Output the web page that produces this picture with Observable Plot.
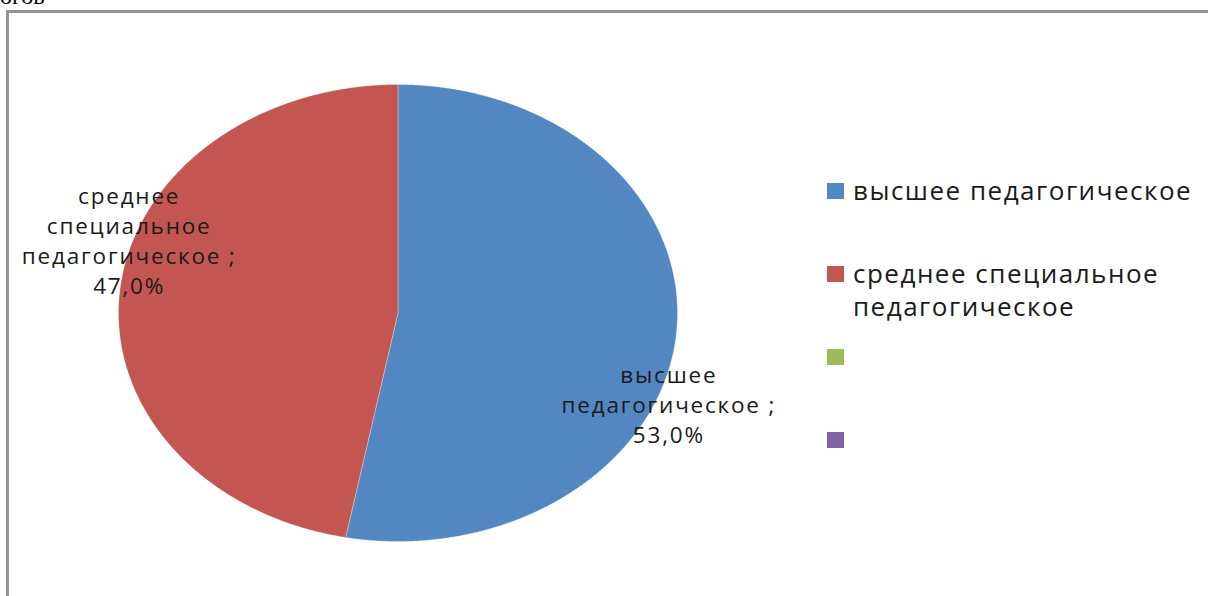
<!DOCTYPE html>
<html>
<head>
<meta charset="utf-8">
<script src="https://cdn.jsdelivr.net/npm/d3@7"></script>
<script src="https://cdn.jsdelivr.net/npm/@observablehq/plot@0.6"></script>
<style>
  html, body { margin: 0; padding: 0; background: #fff; }
  #wrap { position: relative; width: 1208px; height: 596px; overflow: hidden; background: #fff; }
  #chart { position: absolute; left: 0; top: 0; }
  #chart svg { background: transparent; }
  #chart svg text { letter-spacing: 1.8px; }
  #frame { position: absolute; left: 6px; top: 10px; right: -10px; bottom: -10px;
           border-left: 3px solid #949494; border-top: 3px solid #949494; }
  #cut { position: absolute; left: 0; top: -16px; font-family: "Liberation Serif", serif;
         font-size: 24px; line-height: 24px; color: #000; white-space: nowrap; }
  #legend { position: absolute; left: 827px; top: 0; font-family: "Open Sans", sans-serif;
            font-size: 26px; letter-spacing: 1.5px; color: #1a1a1a; }
  .item { position: absolute; left: 0; width: 381px; }
  .sw { position: absolute; left: 0; width: 17px; height: 16px; }
  .lt { position: absolute; left: 26px; width: 360px; line-height: 33px; }
</style>
</head>
<body>
<div id="wrap">
  <div id="chart"></div>
  <div id="cut">огов</div>
  <div id="frame"></div>
  <div id="legend"></div>
</div>
<script>
// ---- data ----
const categories = ["высшее педагогическое", "среднее специальное педагогическое", "", ""];
const shares = [53.0, 47.0, 0, 0];
const colors = ["#5387C1", "#C35651", "#9BBB59", "#8064A2"];

// ---- build slices ----
const records = categories.map((c, i) => ({key: i, name: c, value: shares[i]}));
const pie = d3.pie().sort(null).value(d => d.value);
const arcs = pie(records.filter(d => d.value > 0));

const pts = [];
for (const a of arcs) {
  pts.push({key: a.data.key, x: 0, y: 0});
  const n = Math.max(2, Math.ceil((a.endAngle - a.startAngle) / (Math.PI / 720)));
  for (let k = 0; k <= n; k++) {
    const t = a.startAngle + (a.endAngle - a.startAngle) * k / n;
    pts.push({key: a.data.key, x: Math.sin(t), y: Math.cos(t)});
  }
  pts.push({key: a.data.key, x: 0, y: 0});
}

const fmt = v => v.toFixed(1).replace(".", ",") + "%";
const labels = arcs.map(a => {
  const mid = (a.startAngle + a.endAngle) / 2 + 15 * Math.PI / 180;
  const r = 1.03;
  return {
    key: a.data.key,
    x: r * Math.sin(mid),
    y: r * Math.cos(mid),
    text: a.data.name.split(" ").join("\n") + " ;\n" + fmt(a.data.value)
  };
});

const plot = Plot.plot({
  width: 800,
  height: 596,
  margin: 0,
  style: {background: "transparent"},
  x: {domain: [-1, 1], range: [118, 677], axis: null},
  y: {domain: [-1, 1], range: [541, 84], axis: null},
  marks: [
    ...arcs.map(a => Plot.line(pts.filter(p => p.key === a.data.key), {
      x: "x", y: "y", fill: colors[a.data.key], stroke: "#ffffff", strokeOpacity: 0.35, strokeWidth: 0.8
    })),
    Plot.text(labels, {
      x: "x", y: "y", text: "text", dy: 8, dx: 1,
      fontSize: 22.5, lineHeight: 1.333, fill: "#1a1a1a",
      fontFamily: "Open Sans, sans-serif", textAnchor: "middle"
    })
  ]
});
document.getElementById("chart").appendChild(plot);

// ---- legend ----
const legend = document.getElementById("legend");
const legendTops = [183, 266, 349, 432];
categories.forEach((c, i) => {
  const item = document.createElement("div");
  item.className = "item";
  item.style.top = legendTops[i] + "px";
  const sw = document.createElement("div");
  sw.className = "sw";
  sw.style.background = colors[i];
  item.appendChild(sw);
  const lt = document.createElement("div");
  lt.className = "lt";
  lt.style.top = "-9px";
  lt.textContent = c;
  item.appendChild(lt);
  legend.appendChild(item);
});
</script>
</body>
</html>
